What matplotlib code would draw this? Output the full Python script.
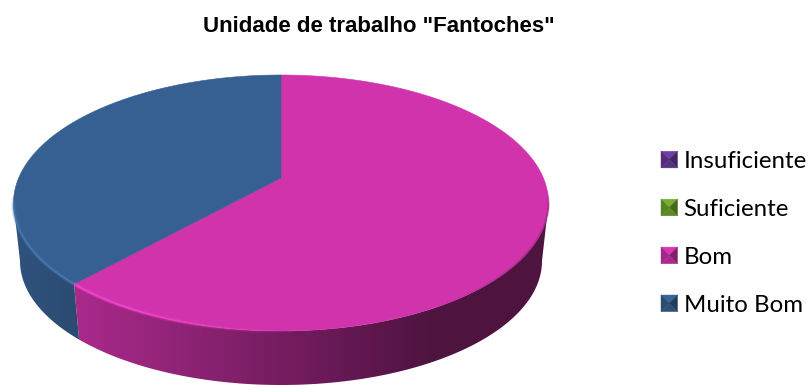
import numpy as np
import matplotlib
matplotlib.use("Agg")
import matplotlib.pyplot as plt
from matplotlib.collections import LineCollection
from matplotlib.legend_handler import HandlerBase
from matplotlib.patches import Patch, Polygon
from matplotlib.colors import to_rgb

title = 'Unidade de trabalho "Fantoches"'
categories = ["Insuficiente", "Suficiente", "Bom", "Muito Bom"]
values = [0, 0, 61.8, 38.2]
colors = ["#6A3A9C", "#6FA82E", "#D033AB", "#376092"]

W, H = 811, 385
fig = plt.figure(figsize=(W / 100, H / 100), dpi=100, facecolor="white")
ax = fig.add_axes([0, 0, 1, 1])
ax.axis("off")

K = 0.195


def project(theta, cx, cy, rx, ry):
    u, v = np.sin(theta), np.cos(theta)
    d = 1 + K * v
    return cx + rx * u * np.sqrt(1 - K ** 2) / d, cy - ry * (v + K) / d


TOP = (281, 203, 267.5, 128)
BOT = (281, 261, 261, 124)

vals = np.array(values, float)
edges = np.concatenate([[0], np.cumsum(vals)]) / vals.sum() * 2 * np.pi


def side_gradient(idx):
    xs = np.arange(W)
    t = np.clip((xs - 75) / (430 - 75), 0, 1)
    base = np.array(to_rgb(colors[idx]))
    if idx == 3:
        f = 0.86 - 0.08 * np.clip((xs - 15) / 60, 0, 1)
    else:
        f = 0.82 - 0.44 * t
    return (f[:, None] * base)[None, :, :]


# Sides: a horizontal shading clipped to each slice's visible wall.
# The wall is visible between the two angles where the rim is widest.
lo = np.arccos(-K)
hi = 2 * np.pi - lo
for i in range(len(values)):
    if vals[i] == 0:
        continue
    a, b = max(edges[i], lo), min(edges[i + 1], hi)
    th = np.linspace(a, b, 300)
    xt, yt = project(th, *TOP)
    xb, yb = project(th[::-1], *BOT)
    wall = Polygon(np.r_[np.c_[xt, yt], np.c_[xb, yb]], closed=True,
                   transform=ax.transData, facecolor="none", edgecolor="none")
    ax.add_patch(wall)
    im = ax.imshow(side_gradient(i), extent=(0, W, H, 0), aspect="auto",
                   interpolation="bilinear", zorder=2)
    im.set_clip_path(wall)

ax.set_xlim(0, W)
ax.set_ylim(H, 0)

# Top faces
apex = (TOP[0], TOP[1] - TOP[3] * K)
for i in range(len(values)):
    if vals[i] == 0:
        continue
    th = np.linspace(edges[i], edges[i + 1], 300)
    x, y = project(th, *TOP)
    ax.add_patch(Polygon(np.r_[[apex], np.c_[x, y]], closed=True,
                         facecolor=colors[i], edgecolor=colors[i],
                         linewidth=0.4, zorder=3))

# Soft bevel along the lit part of the rim
for i in range(len(values)):
    if vals[i] == 0:
        continue
    th = np.linspace(edges[i], edges[i + 1], 400)
    x, y = project(th, *TOP)
    segs = np.stack([np.c_[x[:-1], y[:-1]], np.c_[x[1:], y[1:]]], axis=1)
    xm = (x[:-1] + x[1:]) / 2
    ym = (y[:-1] + y[1:]) / 2
    base = np.array(to_rgb(colors[i]))
    lit = np.minimum(1, base * 1.2 + 0.04)
    fade = np.clip((300 - xm) / 170, 0, 1) * np.clip((ym - 195) / 15, 0, 1)
    shade = np.clip((xm - 440) / 100, 0, 1) * np.clip((ym - 190) / 15, 0, 1)
    for w, al in [(3.0, 0.25), (1.5, 0.6)]:
        rgba = np.c_[np.tile(lit, (len(xm), 1)), fade * al]
        ax.add_collection(LineCollection(segs, colors=rgba, linewidths=w,
                                         capstyle="butt", zorder=4))
    dark = np.c_[np.tile(base * 0.55, (len(xm), 1)), shade * 0.45]
    ax.add_collection(LineCollection(segs, colors=dark, linewidths=1.5,
                                     capstyle="butt", zorder=4))

ax.text(378.5, 26, title, ha="center", va="center", fontsize=12.6 * 351 / 276,
        fontweight="bold", family="Liberation Sans", color="black")


class Bevel(HandlerBase):
    def create_artists(self, legend, orig, xd, yd, width, height, fontsize, trans):
        c = np.array(to_rgb(orig.get_facecolor()))
        x0, y0, x1, y1 = -xd, -yd, -xd + width, -yd + height
        xc, yc = (x0 + x1) / 2, (y0 + y1) / 2
        tris = [([(x0, y1), (x1, y1), (xc, yc)], c * 1.05),
                ([(x0, y0), (x0, y1), (xc, yc)], c * 0.78),
                ([(x1, y0), (x1, y1), (xc, yc)], c * 0.62),
                ([(x0, y0), (x1, y0), (xc, yc)], c * 0.82)]
        return [Polygon(p, closed=True, facecolor=np.clip(col, 0, 1),
                        edgecolor=np.clip(col, 0, 1), linewidth=0.3,
                        transform=trans) for p, col in tris]


handles = [Patch(facecolor=c, label=n) for c, n in zip(colors, categories)]
fs = 17.3
px = fs * 100 / 72
ax.legend(handles=handles, handler_map={Patch: Bevel()}, frameon=False,
          loc="upper left", bbox_to_anchor=(661 / W, 1 - 151 / H),
          prop={"family": "Lato", "size": fs}, borderpad=0, borderaxespad=0,
          handlelength=16.5 / px, handleheight=16.5 / px, handletextpad=6 / px,
          labelspacing=1.12, labelcolor="black")

fig.savefig("out.png", dpi=100, facecolor="white")
